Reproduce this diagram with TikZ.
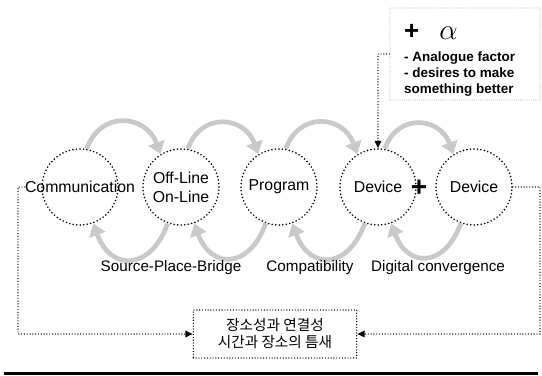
\documentclass[tikz,border=0pt]{standalone}
\usepackage{fontspec}
\setmainfont{Liberation Sans}
\newfontfamily\krfont{Noto Sans CJK KR}
\usetikzlibrary{arrows.meta}

\begin{document}
\begin{tikzpicture}[
		x=0.3mm, y=0.3mm,
		stage/.style={circle, draw, line width=1.5pt, dash pattern=on 0pt off 3pt, line cap=round, minimum size=22.8mm, inner sep=0pt},
		stagetext/.style={font=\fontsize{13.5}{16}\selectfont, align=center, inner sep=0pt},
		cycle/.style={-{Triangle[length=3.6mm,width=5mm]}, draw=gray!42, line width=1.4mm, looseness=1.45},
		backcycle/.style={cycle, looseness=1.75},
		link/.style={line width=1.2pt, dash pattern=on 0pt off 2.4pt, line cap=round},
		tip/.style={-{Triangle[length=2.2mm,width=2mm]}},
		tag/.style={font=\fontsize{13}{15}\selectfont}
	]
	\useasboundingbox (0,0) rectangle (542,375);

	% Stages
	\node[stage, label={[stagetext, name=commtext]center:Communication}] (comm) at (80,188) {};
	\node[stage, label={[stagetext, name=offontext]center:{Off-Line\\On-Line}}] (offon) at (181,188) {};
	\node[stage, label={[stagetext, name=progtext]center:Program}] (prog) at (279,188) {};
	\node[stage, label={[stagetext, name=devonetext]center:Device}] (devone) at (378,188) {};
	\node[stage, label={[stagetext, name=devtwotext]center:Device}] (devtwo) at (474,188) {};
	\node[font=\bfseries\fontsize{24}{24}\selectfont, inner sep=0pt] (plus) at (419,187) {+};

	% Forward arrows (top)
	\draw[cycle] (comm.80) to[out=70,in=110] (offon.122);
	\draw[cycle] (offon.80) to[out=70,in=110] (prog.122);
	\draw[cycle] (prog.80) to[out=70,in=110] (devone.122);
	\draw[cycle] (devone.80) to[out=70,in=110] (devtwo.122);

	% Backward arrows (bottom)
	\draw[backcycle] (offon.250) to[out=250,in=290] (comm.290);
	\draw[backcycle] (prog.250) to[out=250,in=290] (offon.290);
	\draw[backcycle] (devone.250) to[out=250,in=290] (prog.290);
	\draw[backcycle] (devtwo.250) to[out=250,in=290] (devone.290);

	% Labels
	\node[tag] (spb) at (171,107) {Source-Place-Bridge};
	\node[tag] (compat) at (310,107) {Compatibility};
	\node[tag] (digconv) at (438,107) {Digital convergence};

	% Extra factor
	\node[draw=gray!55, line width=0.9pt, dash pattern=on 0pt off 1.8pt, line cap=round,
		minimum width=45mm, minimum height=27.6mm] (alphabox) at (465,321) {};
	\node[anchor=west, inner sep=0pt] (alphahead) at (404,343)
		{{\bfseries\fontsize{22}{22}\selectfont +}\hspace{6mm}{\fontsize{26}{26}\selectfont$\alpha$}};
	\node[anchor=north west, align=left, inner sep=0pt,
		font=\bfseries\fontsize{11.5}{13.6}\selectfont] (alphatext) at (404,323)
		{- Analogue factor\\- desires to make\\something better};
	\draw[link, tip] (alphabox.west) -| (devone.north);

	% Result
	\node[draw, line width=1.2pt, dash pattern=on 0pt off 2.4pt, line cap=round,
		minimum width=49mm, minimum height=14.4mm, align=center,
		font=\krfont\fontsize{12.5}{14.5}\selectfont] (placebox) at (275,41)
		{장소성과 연결성\\시간과 장소의 틈새};
	\coordinate (lbend) at (18,41);
	\coordinate (rbend) at (540,41);
	\draw[link, tip] (commtext.west) -| (lbend) -- (placebox.west);
	\draw[link, tip] (devtwo.east) -| (rbend) -- (placebox.east);

	% Bottom rule
	\draw[line width=0.9mm] (4,2) -- (538,2);

\end{tikzpicture}
\end{document}
